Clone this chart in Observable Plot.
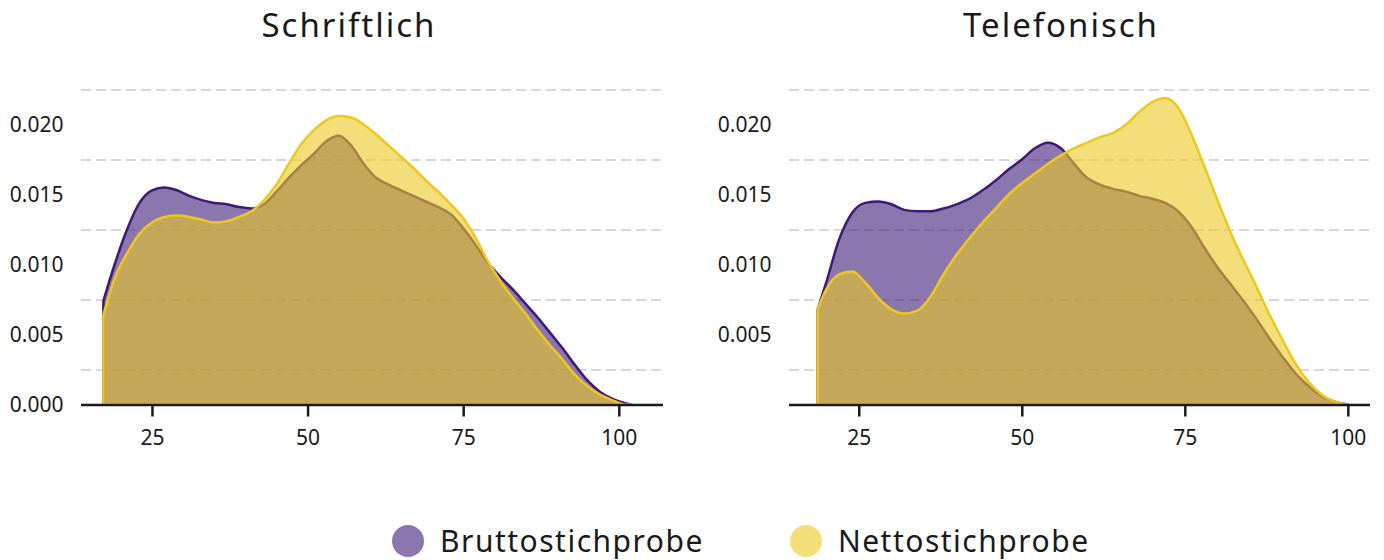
<!DOCTYPE html>
<html><head><meta charset="utf-8">
<script src="https://cdn.jsdelivr.net/npm/d3@7"></script>
<script src="https://cdn.jsdelivr.net/npm/@observablehq/plot@0.6"></script>
<style>
body{margin:0;background:#fff;font-family:"Noto Sans",sans-serif;color:#1a1a1a;}
#wrap{position:relative;width:1384px;height:560px;overflow:hidden;background:#fff}
.title{position:absolute;top:4px;font-size:33px;letter-spacing:2px;line-height:1.3;transform:translateX(-50%);white-space:nowrap;font-weight:400}
.panel{position:absolute;top:45px}
#legend{position:absolute;top:521px;left:392px;display:flex;align-items:center;font-size:30px;letter-spacing:1.5px;line-height:1.3;white-space:nowrap}
.sw{display:inline-block;width:32px;height:32px;border-radius:50%;margin-right:16px}
.item{display:flex;align-items:center;margin-right:86px}
</style></head>
<body><div id="wrap"></div>
<script>
// ---- data ----
const panelTitles = ["Schriftlich", "Telefonisch"];
const seriesNames = ["Bruttostichprobe", "Nettostichprobe"];
const seriesColors = ["#3d1a78", "#ecc820"];
const xTicks = [25, 50, 75, 100];
const gridLevels = [0.0025, 0.0075, 0.0125, 0.0175, 0.0225];
const yTicksLeft = [0, 0.005, 0.01, 0.015, 0.02];
const yTicksRight = [0.005, 0.01, 0.015, 0.02];

const schriftlichAge = [17.2,19,21,23,25,27,29,31,33,35,37,39,41,43,45,47,49,51,53,55,57,59,61,63,65,67,69,71,73,75,77,79,81,83,85,87,89,91,93,95,97,99,101,102];
const schriftlichBrutto = [0.0074,0.0100,0.0125,0.0144,0.0153,0.0155,0.0153,0.0149,0.0146,0.0144,0.0143,0.0141,0.0140,0.0143,0.0152,0.0162,0.0171,0.0179,0.0188,0.0192,0.0185,0.0172,0.0162,0.0157,0.0153,0.0149,0.0145,0.0141,0.0136,0.0126,0.0114,0.0101,0.0091,0.0082,0.0072,0.0062,0.0051,0.0040,0.0028,0.0017,0.0009,0.0004,0.0001,0];
const schriftlichNetto = [0.0064,0.0090,0.0108,0.0122,0.0130,0.0134,0.0135,0.0134,0.0132,0.0130,0.0131,0.0134,0.0138,0.0146,0.0157,0.0172,0.0186,0.0196,0.0203,0.0206,0.0205,0.0200,0.0193,0.0185,0.0177,0.0169,0.0160,0.0152,0.0143,0.0133,0.0119,0.0102,0.0088,0.0076,0.0065,0.0053,0.0042,0.0032,0.0021,0.0013,0.0007,0.0003,0,0];

const telefonischAge = [18.7,20,22,24,26,28,30,32,34,36,38,40,42,44,46,48,50,52,54,56,58,60,62,64,66,68,70,72,74,76,78,80,82,84,86,88,90,92,94,96,98,100];
const telefonischBrutto = [0.0068,0.0087,0.0118,0.0137,0.0144,0.0145,0.0143,0.0139,0.0138,0.0138,0.0140,0.0143,0.0147,0.0153,0.0160,0.0168,0.0175,0.0183,0.0187,0.0183,0.0172,0.0162,0.0157,0.0154,0.0152,0.0149,0.0147,0.0144,0.0138,0.0127,0.0112,0.0098,0.0086,0.0074,0.0061,0.0047,0.0034,0.0022,0.0013,0.0006,0.0002,0];
const telefonischNetto = [0.0068,0.0082,0.0093,0.0095,0.0087,0.0076,0.0068,0.0065,0.0067,0.0077,0.0093,0.0107,0.0119,0.0130,0.0140,0.0150,0.0158,0.0165,0.0172,0.0178,0.0183,0.0187,0.0191,0.0194,0.0200,0.0209,0.0216,0.0219,0.0212,0.0193,0.0170,0.0146,0.0123,0.0103,0.0084,0.0064,0.0046,0.0029,0.0016,0.0007,0.0002,0];

const FONT = '"Noto Sans", sans-serif';
const wrap = document.getElementById("wrap");

function panel(age, brutto, netto, cfg) {
  const rows = age.map((a, i) => ({age: a, brutto: brutto[i], netto: netto[i]}));
  const [cB, cN] = seriesColors;
  return Plot.plot({
    width: 692, height: 420,
    marginLeft: cfg.ml, marginRight: cfg.mr, marginTop: 9.5, marginBottom: 60.5,
    x: {domain: cfg.xdom},
    y: {domain: [0, 0.025]},
    style: {fontFamily: FONT, fontSize: "21px", color: "#1a1a1a", background: "transparent"},
    marks: [
      Plot.ruleY(gridLevels, {stroke: "#cccccc", strokeWidth: 1.5, strokeDasharray: "10,5"}),
      Plot.areaY(rows, {x: "age", y: "brutto", fill: cB, fillOpacity: 0.6, stroke: cB, strokeWidth: 2.5, curve: "monotone-x"}),
      Plot.areaY(rows, {x: "age", y: "netto", fill: cN, fillOpacity: 0.6, stroke: cN, strokeWidth: 2.5, curve: "monotone-x"}),
      Plot.ruleY([0], {stroke: "#1a1a1a", strokeWidth: 2.5}),
      Plot.axisX({ticks: xTicks, tickSize: 12, tickPadding: 13, strokeWidth: 2.5, stroke: "#1a1a1a", label: null, tickFormat: d => String(d)}),
      Plot.axisY({ticks: cfg.yTicks, tickSize: 0, tickPadding: 18, label: null, tickFormat: d3.format(".3f")})
    ]
  });
}

const configs = [
  {left: 0, ml: 81, mr: 29, xdom: [13.6, 107.1], yTicks: yTicksLeft, tx: 349},
  {left: 692, ml: 97, mr: 14, xdom: [14.3, 103.4], yTicks: yTicksRight, tx: 1061}
];
const datasets = [
  [schriftlichAge, schriftlichBrutto, schriftlichNetto],
  [telefonischAge, telefonischBrutto, telefonischNetto]
];

configs.forEach((cfg, i) => {
  const t = document.createElement("div");
  t.className = "title"; t.textContent = panelTitles[i]; t.style.left = cfg.tx + "px";
  wrap.appendChild(t);
  const p = document.createElement("div");
  p.className = "panel"; p.style.left = cfg.left + "px";
  p.appendChild(panel(...datasets[i], cfg));
  wrap.appendChild(p);
});

const legend = document.createElement("div");
legend.id = "legend";
seriesNames.forEach((name, i) => {
  const it = document.createElement("div"); it.className = "item";
  const sw = document.createElement("span"); sw.className = "sw";
  sw.style.background = seriesColors[i]; sw.style.opacity = 0.6;
  const tx = document.createElement("span"); tx.textContent = name;
  it.appendChild(sw); it.appendChild(tx); legend.appendChild(it);
});
wrap.appendChild(legend);
</script></body></html>
